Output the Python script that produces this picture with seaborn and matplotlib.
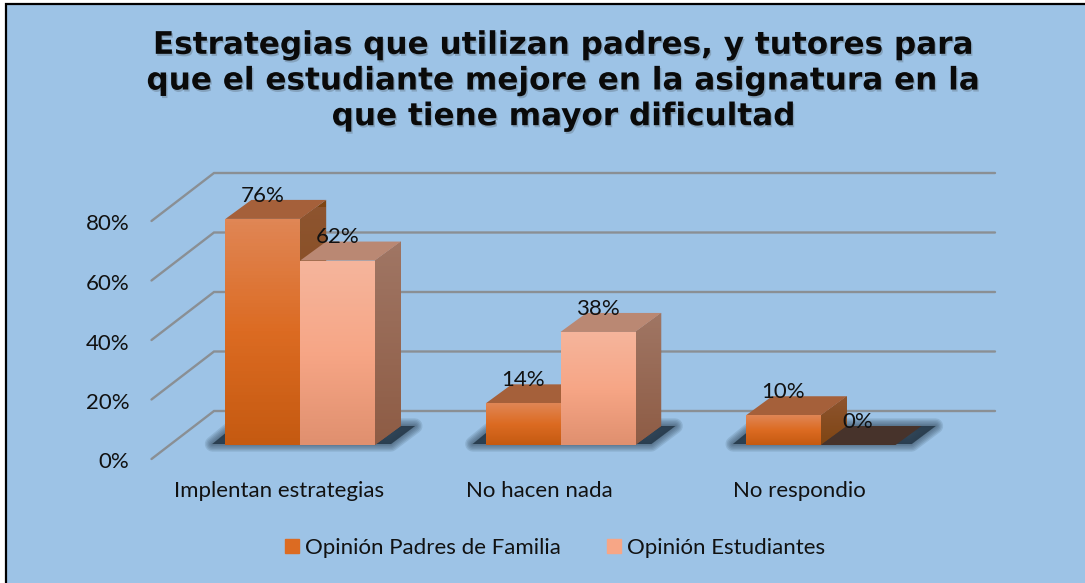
import matplotlib
matplotlib.use("Agg")
import matplotlib.pyplot as plt
import matplotlib.patheffects as pe
from matplotlib.colors import LinearSegmentedColormap
from matplotlib.patches import Patch, Rectangle
from matplotlib.transforms import Affine2D
import numpy as np
import pandas as pd
import seaborn as sns

# values
categories = ["Implentan estrategias", "No hacen nada", "No respondio"]
series_names = ["Opinión Padres de Familia", "Opinión Estudiantes"]
padres = [76, 14, 10]
estudiantes = [62, 38, 0]
y_ticks = [0, 20, 40, 60, 80]
title = ("Estrategias que utilizan padres, y tutores para\n"
         "que el estudiante mejore en la asignatura en la\n"
         "que tiene mayor dificultad")

W, H = 1085, 583
BG = "#9DC3E6"
# front, top and side colours per series
front_cols = [["#E08655", "#DC6B22", "#C55A11"], ["#F5B59C", "#F7A686", "#E0906F"]]
top_cols = ["#A5603A", "#BA8873"]
side_cols = [["#8E5530", "#7F4513"], ["#A07664", "#8E5C45"]]
FS = 16

sns.set_theme(style="white")
plt.rcParams["font.family"] = ["Lato", "DejaVu Sans"]

fig = plt.figure(figsize=(W / 100, H / 100), dpi=100, facecolor="white")
fig.add_artist(Rectangle((5.5 / W, -0.02), 1.02, 1.02 - 3.5 / H, transform=fig.transFigure,
                         facecolor=BG, edgecolor="black", linewidth=1.6, zorder=-1))

ax = fig.add_axes([170 / W, (H - 445) / H, 781 / W, 238 / H])
ax.patch.set_alpha(0)

df = pd.DataFrame({
    "Estrategia": categories * 2,
    "Serie": [series_names[0]] * 3 + [series_names[1]] * 3,
    "Porcentaje": padres + estudiantes,
})
sns.barplot(data=df, x="Estrategia", y="Porcentaje", hue="Serie", hue_order=series_names,
            palette=[front_cols[0][1], front_cols[1][1]], width=0.574, gap=0,
            saturation=1, legend=False, ax=ax, zorder=5, linewidth=0)
ax.set_xlim(-0.5, 2.5)
ax.set_ylim(0, 80)
ax.set_xlabel("")
ax.set_ylabel("")
sns.despine(ax=ax, left=True, bottom=True)

# pixel sizes of the fake depth, turned into data units
sx = 781 / 3
sy = 238 / 80

# back wall and side wall lines
for t in y_ticks:
    ax.plot([-0.5 - 18.5 / sx, -0.5 + 44 / sx, 2.5 + 44 / sx],
            [t - 14 / sy, t + 34 / sy, t + 34 / sy],
            color="#8A8F94", lw=1.7, clip_on=False, zorder=1, solid_joinstyle="miter")

# floor shadow under each group, soft edge from stacked strokes
bars = [list(c) for c in ax.containers]
for i in range(3):
    x0 = bars[0][i].get_x()
    x1 = bars[1][i].get_x() + bars[1][i].get_width()
    sh_x = [x0 - 13 / sx, x0 + 9 / sx, x1 + 40 / sx, x1 + 16 / sx]
    sh_y = [1 / sy, 19 / sy, 19 / sy, 1 / sy]
    for lw in [11, 9, 7, 5, 3, 1]:
        ax.fill(sh_x, sh_y, facecolor="#2E4455", edgecolor="#2E4455", lw=lw, alpha=0.14,
                clip_on=False, zorder=2, joinstyle="round")
    ax.fill(sh_x, sh_y, facecolor="#26394A", lw=0, alpha=0.8, clip_on=False, zorder=2)

# depth faces and gradients, group by group so the front bars overlap correctly
dx, dy = 26 / sx, 19 / sy
for i in range(3):
    for s in range(2):
        z = 3 + i + s * 0.1
        b = bars[s][i]
        x0, x1, h = b.get_x(), b.get_x() + b.get_width(), b.get_height()
        top = "#47332B" if h == 0 else top_cols[s]
        side = ax.fill([x1, x1 + dx, x1 + dx, x1], [0, dy, h + dy, h], color=side_cols[s][1],
                       lw=0, clip_on=False, zorder=z)[0]
        ax.fill([x0, x0 + dx, x1 + dx, x1], [h, h + dy, h + dy, h], color=top,
                lw=0, clip_on=False, zorder=z + 0.01)
        b.set_zorder(z + 0.02)
        if h > 0:
            cmap = LinearSegmentedColormap.from_list("f", front_cols[s])
            im = ax.imshow(np.linspace(0, 1, 64).reshape(-1, 1), cmap=cmap, aspect="auto",
                           extent=(x0, x1, 0, h), zorder=z + 0.03)
            im.set_clip_path(b)
            cmap2 = LinearSegmentedColormap.from_list("g", side_cols[s])
            im2 = ax.imshow(np.linspace(0, 1, 64).reshape(-1, 1), cmap=cmap2, aspect="auto",
                            extent=(x1, x1 + dx, 0, h + dy), zorder=z + 0.005)
            im2.set_clip_path(side)
            im2.set_clip_on(True)
ax.set_xlim(-0.5, 2.5)
ax.set_ylim(0, 80)

# data labels
for s, c in enumerate(ax.containers):
    for t in ax.bar_label(c, fmt="%g%%", padding=9.5, fontsize=FS, color="#111111", zorder=20):
        t.set_clip_on(False)

# ticks sit on the front edge of the floor, not on the bar plane
ax.set_yticks(y_ticks)
ax.set_yticklabels([f"{t}%" for t in y_ticks])
ax.tick_params(axis="both", length=0, labelsize=FS, labelcolor="#111111")
ax.tick_params(axis="y", pad=16)
ax.tick_params(axis="x", pad=26)
for lab in ax.get_yticklabels():
    lab.set_transform(lab.get_transform() + Affine2D().translate(-18.5, -15.5))
for lab in ax.get_xticklabels():
    lab.set_transform(lab.get_transform() + Affine2D().translate(-21, 0))

handles = [Patch(color=front_cols[0][1]), Patch(color=front_cols[1][1])]
fig.legend(handles, series_names, loc="center", bbox_to_anchor=(555 / W, (H - 548) / H),
           ncols=2, frameon=False, fontsize=FS, handlelength=0.62, handleheight=0.62,
           handletextpad=0.25, columnspacing=2.1, labelcolor="#111111")

fig.text(564 / W, (H - 81) / H, title, ha="center", va="center", fontsize=22.4,
         fontweight="bold", family="DejaVu Sans", color="#0A0A0A", linespacing=1.29,
         path_effects=[pe.withSimplePatchShadow(offset=(1, -1.5), alpha=0.22, shadow_rgbFace="#333333")])

fig.savefig("out.png", dpi=100)
